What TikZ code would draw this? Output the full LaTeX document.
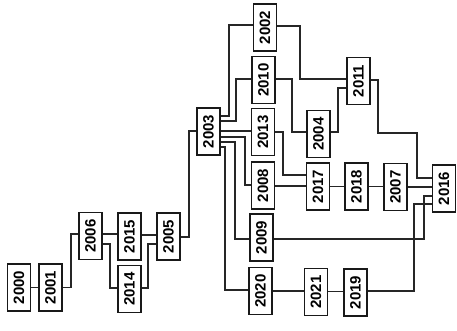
\documentclass[tikz,border=0pt]{standalone}
\usepackage{fontspec}
\setmainfont{Liberation Sans}
\usepackage{graphicx}
\begin{document}
\begin{tikzpicture}[x=1pt,y=-1pt,
  yearbox/.style={draw=black!90, line width=1.5pt, fill=white, minimum width=23pt, minimum height=47pt, inner sep=0pt,
    font=\fontsize{15}{15}\selectfont\bfseries},
  link/.style={draw=black!85, line width=1.3pt}]
\useasboundingbox (0,0) rectangle (457,331);
% nodes
\node[yearbox] (n2000) at (19,287.5) {\rotatebox{90}{2000}};
\node[yearbox] (n2001) at (50.5,287.5) {\rotatebox{90}{2001}};
\node[yearbox] (n2006) at (90.5,236) {\rotatebox{90}{2006}};
\node[yearbox] (n2015) at (129.5,236.5) {\rotatebox{90}{2015}};
\node[yearbox] (n2014) at (129.5,289) {\rotatebox{90}{2014}};
\node[yearbox] (n2005) at (168.5,236.5) {\rotatebox{90}{2005}};
\node[yearbox] (n2003) at (208.5,131.5) {\rotatebox{90}{2003}};
\node[yearbox] (n2002) at (265,27.5) {\rotatebox{90}{2002}};
\node[yearbox] (n2010) at (263.5,80) {\rotatebox{90}{2010}};
\node[yearbox] (n2013) at (263,132) {\rotatebox{90}{2013}};
\node[yearbox] (n2008) at (263,185.5) {\rotatebox{90}{2008}};
\node[yearbox] (n2009) at (261.5,237.5) {\rotatebox{90}{2009}};
\node[yearbox] (n2020) at (260.5,291) {\rotatebox{90}{2020}};
\node[yearbox] (n2004) at (318.5,134) {\rotatebox{90}{2004}};
\node[yearbox] (n2017) at (318,186.5) {\rotatebox{90}{2017}};
\node[yearbox] (n2011) at (358.5,81) {\rotatebox{90}{2011}};
\node[yearbox] (n2018) at (356.5,186.5) {\rotatebox{90}{2018}};
\node[yearbox] (n2007) at (395.5,187) {\rotatebox{90}{2007}};
\node[yearbox] (n2016) at (444,188.5) {\rotatebox{90}{2016}};
\node[yearbox] (n2021) at (316,292) {\rotatebox{90}{2021}};
\node[yearbox] (n2019) at (355.5,292.5) {\rotatebox{90}{2019}};
% connectors
\draw[link] (n2000.east|-0,287.5) -- (n2001.west|-0,287.5);
\draw[link] (n2001.east|-0,287.5) -| (71,234) -- (n2006.west|-0,234);
\draw[link] (n2006.east|-0,234) -- (n2015.west|-0,234);
\draw[link] (n2006.east|-0,244) -| (110,288) -- (n2014.west|-0,288);
\draw[link] (n2015.east|-0,235) -- (n2005.west|-0,235);
\draw[link] (n2014.east|-0,288) -| (148,244) -- (n2005.west|-0,244);
\draw[link] (n2005.east|-0,237) -| (189,131) -- (n2003.west|-0,131);
\draw[link] (n2003.east|-0,116) -| (229,25) -- (n2002.west|-0,25);
\draw[link] (n2003.east|-0,121) -| (236,79) -- (n2010.west|-0,79);
\draw[link] (n2003.east|-0,131) -- (n2013.west|-0,131);
\draw[link] (n2003.east|-0,137) -| (245,185) -- (n2008.west|-0,185);
\draw[link] (n2003.east|-0,142) -| (235,239) -- (n2009.west|-0,239);
\draw[link] (n2003.east|-0,147) -| (225,290) -- (n2020.west|-0,290);
\draw[link] (n2002.east|-0,26) -| (300,79) -- (n2011.west|-0,79);
\draw[link] (n2010.east|-0,79) -| (292,132) -- (n2004.west|-0,132);
\draw[link] (n2004.east|-0,132) -| (338,88) -- (n2011.west|-0,88);
\draw[link] (n2011.east|-0,80) -| (378,133) -| (417,178) -- (n2016.west|-0,178);
\draw[link] (n2013.east|-0,132) -| (283,175) -- (n2017.west|-0,175);
\draw[link] (n2008.east|-0,186) -- (n2017.west|-0,186);
\draw[link] (n2017.east|-0,186.5) -- (n2018.west|-0,186.5);
\draw[link] (n2018.east|-0,186.5) -- (n2007.west|-0,186.5);
\draw[link] (n2007.east|-0,187) -- (n2016.west|-0,187);
\draw[link] (n2009.east|-0,239) -| (424,196) -- (n2016.west|-0,196);
\draw[link] (n2020.east|-0,291) -- (n2021.west|-0,291);
\draw[link] (n2021.east|-0,291.5) -- (n2019.west|-0,291.5);
\draw[link] (n2019.east|-0,291) -| (414,204) -- (n2016.west|-0,204);
\end{tikzpicture}
\end{document}
